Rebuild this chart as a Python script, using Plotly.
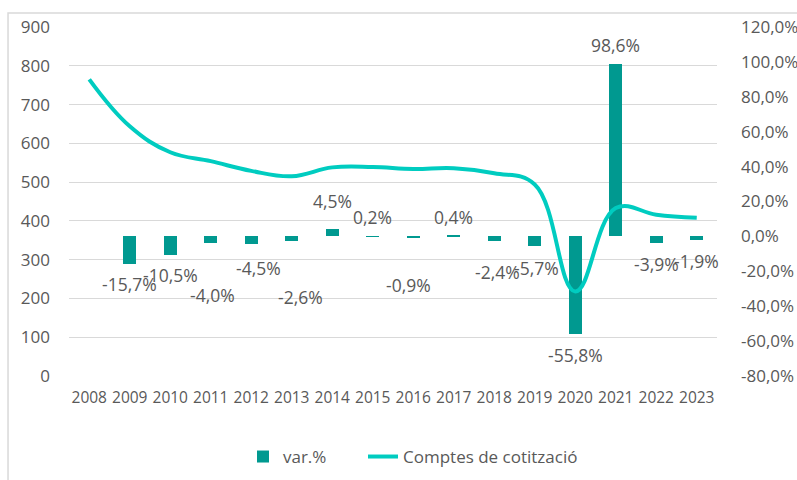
import plotly.graph_objects as go

# ---- data ----
years = ["2008", "2009", "2010", "2011", "2012", "2013", "2014", "2015",
         "2016", "2017", "2018", "2019", "2020", "2021", "2022", "2023"]
accounts = [765, 644, 577, 554, 529, 515, 538, 539, 534, 536, 523, 494, 218, 433, 416, 408]
var_years = ["2009", "2010", "2011", "2012", "2013", "2014", "2015", "2016",
             "2017", "2018", "2019", "2020", "2021", "2022", "2023"]
var_pct = [-15.7, -10.5, -4.0, -4.5, -2.6, 4.5, 0.2, -0.9, 0.4, -2.4, -5.7, -55.8, 98.6, -3.9, -1.9]
left_ticks = [0, 100, 200, 300, 400, 500, 600, 700, 800, 900]
right_ticks = [-80, -60, -40, -20, 0, 20, 40, 60, 80, 100, 120]
right_tick_text = ["-80,0%", "-60,0%", "-40,0%", "-20,0%", "0,0%", "20,0%",
                   "40,0%", "60,0%", "80,0%", "100,0%", "120,0%"]

# ---- style: label offsets in pixels (x right, y down) ----
label_dx = [0, 0, 2, 7, 9, 0, 0, -5, 0, 3, 2, 0, 0, 0, 0]
label_dy = [20, 20, 52, 24, 56, -28, -19, 47, -19, 31, 22, 21, -19, 21, 21]

FONT = "Open Sans"
GREY = "#595959"
BAR_COLOR = "#009990"
LINE_COLOR = "#00CCC0"


def fmt(v):
    return f"{v:.1f}%".replace(".", ",")


fig = go.Figure()
fig.add_trace(go.Bar(
    x=var_years, y=var_pct, name="var.%", yaxis="y", legend="legend",
    marker=dict(color=BAR_COLOR, line=dict(width=0)), width=0.32,
))
fig.add_trace(go.Scatter(
    x=years, y=accounts, name="Comptes de cotització", yaxis="y2", legend="legend2",
    mode="lines", line=dict(color=LINE_COLOR, width=4, shape="spline", smoothing=1.15),
))

annotations = []
for yr, v, dx, dy in zip(var_years, var_pct, label_dx, label_dy):
    annotations.append(dict(
        x=years.index(yr), y=v, xref="x", yref="y", text=fmt(v), showarrow=False,
        xshift=dx, yshift=-dy, font=dict(family=FONT, size=17.5, color=GREY),
    ))

legend_style = dict(orientation="h", y=-0.232, xanchor="left", yanchor="middle",
                    font=dict(family=FONT, size=17, color=GREY), bgcolor="rgba(0,0,0,0)")

fig.update_layout(
    width=797, height=480,
    margin=dict(l=69, r=80, t=27, b=104, autoexpand=False),
    paper_bgcolor="white", plot_bgcolor="white",
    font=dict(family=FONT, size=17, color=GREY),
    showlegend=True,
    legend=dict(x=0.2685, **legend_style),
    legend2=dict(x=0.4537, **legend_style),
    xaxis=dict(type="category", categoryorder="array", categoryarray=years,
               range=[-0.5, 15.5], showgrid=False, zeroline=False, showline=False,
               ticks="", tickfont=dict(family=FONT, size=15.5, color=GREY),
               ticklabelstandoff=10, automargin=False),
    yaxis=dict(side="right", range=[-80, 120], tickvals=right_ticks, ticktext=right_tick_text,
               showgrid=False, zeroline=False, showline=False, ticks="",
               tickfont=dict(family=FONT, size=17, color=GREY), ticklabelstandoff=23,
               automargin=False),
    yaxis2=dict(side="left", overlaying="y", range=[0, 900], tickvals=left_ticks,
                showgrid=True, gridcolor="#d9d9d9", gridwidth=1, zeroline=False,
                showline=False, ticks="", tickfont=dict(family=FONT, size=17, color=GREY),
                ticklabelstandoff=18, automargin=False),
    annotations=annotations,
    shapes=[dict(type="rect", xref="paper", yref="paper",
                 x0=-0.0941, x1=2, y0=-2, y1=1.0401,
                 line=dict(color="#d9d9d9", width=1.5), fillcolor="rgba(0,0,0,0)", layer="below")],
    bargap=0,
)

fig.write_html("out.html", config={"displayModeBar": False},
               post_script="document.body.style.margin='0';document.body.style.overflow='hidden';")
